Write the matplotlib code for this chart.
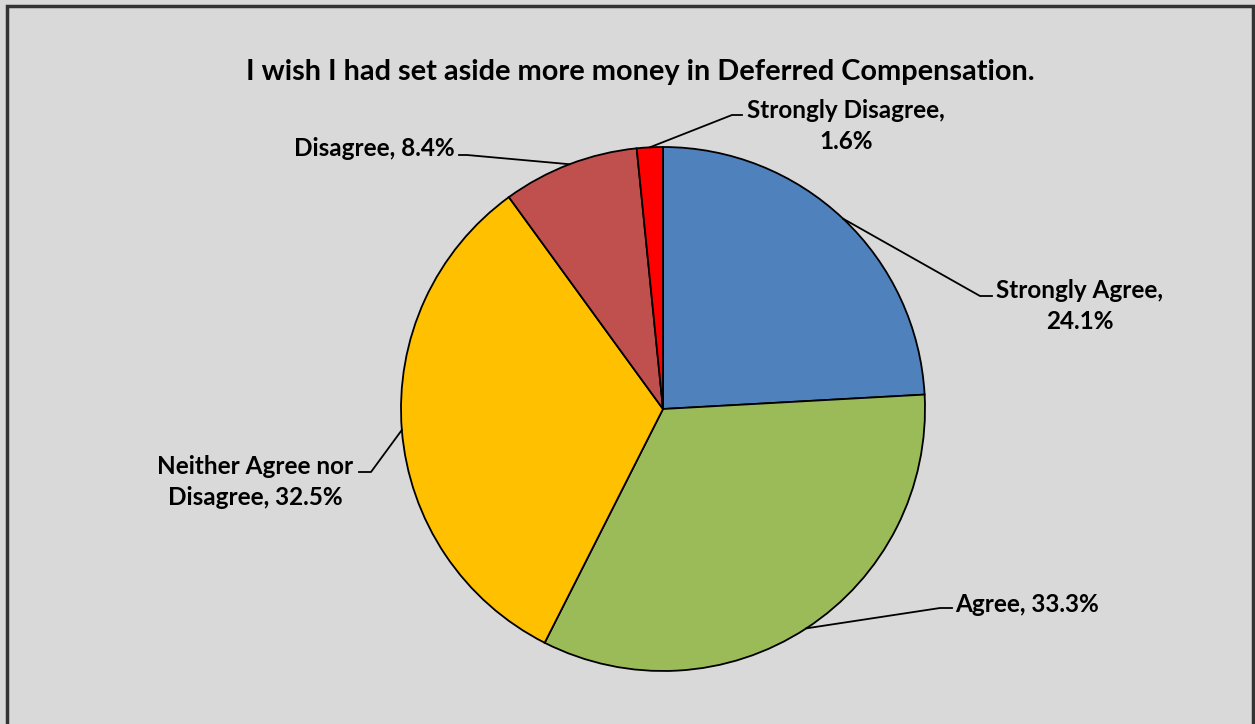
import matplotlib
matplotlib.use("Agg")
import matplotlib.pyplot as plt
from matplotlib.patches import Rectangle
import numpy as np

TITLE="I wish I had set aside more money in Deferred Compensation."
CATEGORIES=["Strongly Agree","Agree","Neither Agree nor Disagree","Disagree","Strongly Disagree"]
SHARES=[24.1,33.3,32.5,8.4,1.6]
COLORS=["#4F81BD","#9BBB59","#FFC000","#C0504D","#FF0000"]
LABELS=["Strongly Agree,\n24.1%","Agree, 33.3%","Neither Agree nor\nDisagree, 32.5%","Disagree, 8.4%","Strongly Disagree,\n1.6%"]

W,H=1255,724
CX,CY,R=663,H-409,262
plt.rcParams["font.family"]=["Lato","DejaVu Sans"]

fig=plt.figure(figsize=(W/100,H/100),dpi=100,facecolor="#D9D9D9")
ax=fig.add_axes([0,0,1,1])
ax.add_patch(Rectangle((7,-10),1246,H-5+10-1,fill=False,edgecolor="#333333",linewidth=2.5))

wedges,_=ax.pie(SHARES,colors=COLORS,startangle=90,counterclock=False,center=(CX,CY),radius=R,
                wedgeprops=dict(edgecolor="black",linewidth=1.3),frame=True)
ax.set_xlim(0,W); ax.set_ylim(0,H); ax.set_aspect("equal"); ax.axis("off")

ax.text(640,H-72,TITLE,ha="center",va="center",fontsize=20.8,fontweight="bold")

# label text position, alignment, elbow point and end of the short horizontal tick (pixel coords, y from top)
layout=[((1080,306),"center",(980,296),(992,296)),
        ((955,604),"left",(940,608),(952,608)),
        ((255,482),"center",(371,472),(359,472)),
        ((455,148),"right",(467,155),(459,155)),
        ((846,126),"center",(732,115),(742,115))]
for w,lab,(tp,ha,elbow,tick) in zip(wedges,LABELS,layout):
    mid=np.deg2rad((w.theta1+w.theta2)/2)
    ex,ey=CX+R*np.cos(mid),CY+R*np.sin(mid)
    ax.plot([ex,elbow[0],tick[0]],[ey,H-elbow[1],H-tick[1]],color="black",linewidth=1.3)
    ax.text(tp[0],H-tp[1],lab,ha=ha,va="center",fontsize=17.5,fontweight="bold",multialignment="center",linespacing=1.38)

fig.savefig("out.png",dpi=100,facecolor=fig.get_facecolor())
